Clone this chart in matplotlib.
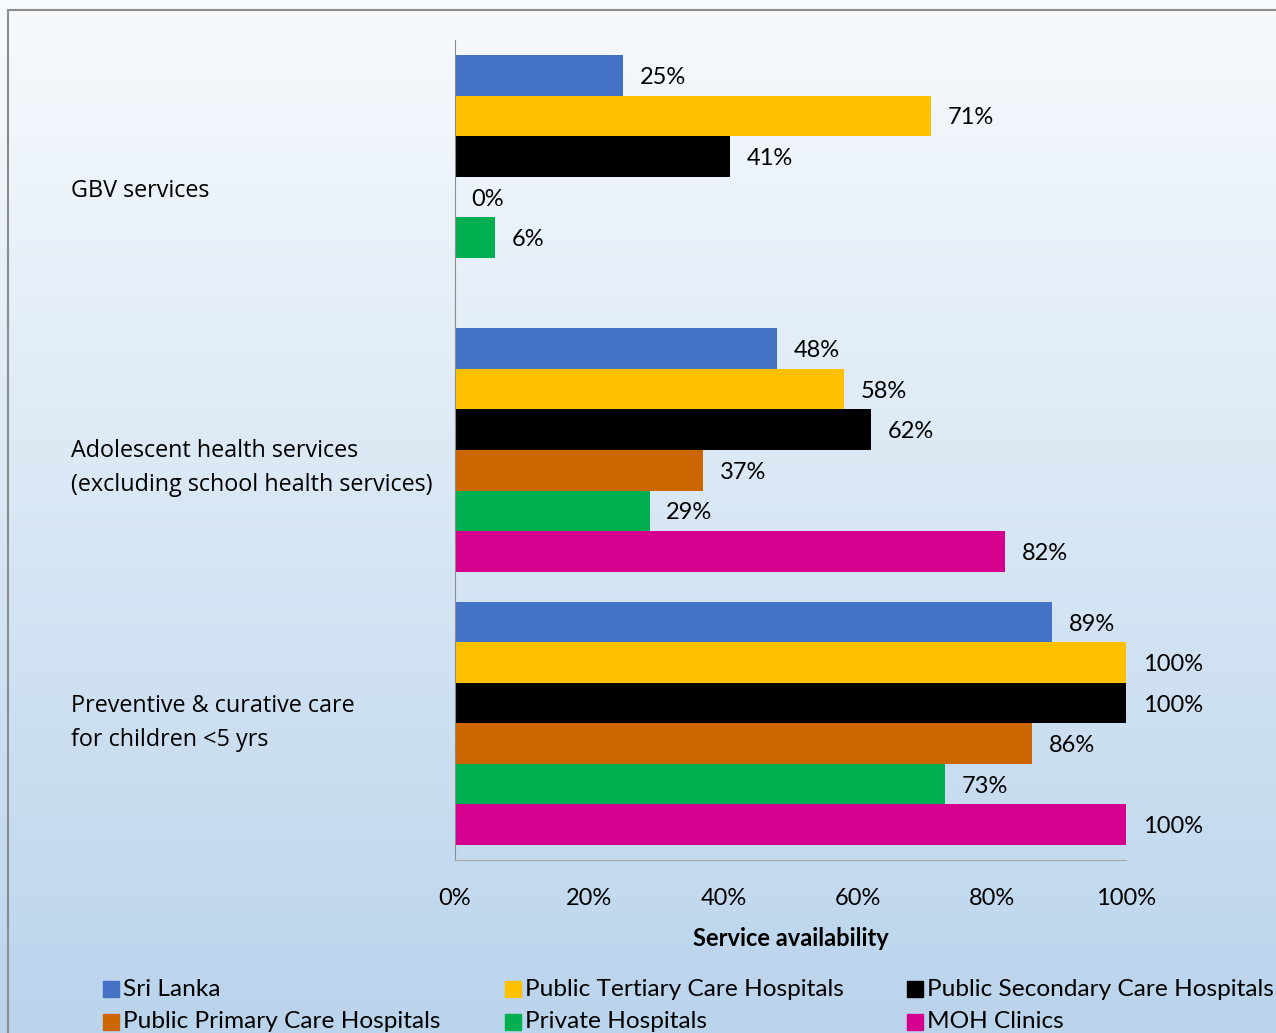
import matplotlib
matplotlib.use("Agg")
import matplotlib.pyplot as plt
import matplotlib.transforms as mtransforms
from matplotlib.patches import Rectangle
import numpy as np

categories = [
    "Preventive & curative care\nfor children <5 yrs",
    "Adolescent health services\n(excluding school health services)",
    "GBV services",
]
series = [
    "Sri Lanka",
    "Public Tertiary Care Hospitals",
    "Public Secondary Care Hospitals",
    "Public Primary Care Hospitals",
    "Private Hospitals",
    "MOH Clinics",
]
colors = ["#4472C4", "#FFC000", "#000000", "#CC6600", "#00B050", "#D6008F"]

# values per series, in category order (preventive, adolescent, GBV)
sri_lanka = [0.89, 0.48, 0.25]
tertiary = [1.00, 0.58, 0.71]
secondary = [1.00, 0.62, 0.41]
primary = [0.86, 0.37, 0.00]
private = [0.73, 0.29, 0.06]
moh = [1.00, 0.82, np.nan]
values = [sri_lanka, tertiary, secondary, primary, private, moh]

ticks = [0, 0.2, 0.4, 0.6, 0.8, 1.0]

plt.rcParams["font.family"] = ["Lato", "DejaVu Sans"]
FS = 17

fig = plt.figure(figsize=(12.76, 10.33), dpi=100)

# background gradient + frame
bg = fig.add_axes([0, 0, 1, 1], zorder=-10)
top = np.array([247, 250, 253]) / 255
bot = np.array([186, 212, 236]) / 255
t = np.linspace(0, 1, 256)[:, None]
grad = top[None, :] * (1 - t) + bot[None, :] * t
bg.imshow(grad[:, None, :], aspect="auto", extent=[0, 1, 0, 1])
bg.add_patch(Rectangle((8 / 1276, -0.05), 1.1, 1.05 - 10 / 1033,
                       fill=False, edgecolor="#8C8C8C", linewidth=1.5))
bg.set_xlim(0, 1)
bg.set_ylim(0, 1)
bg.axis("off")

ax = fig.add_axes([455 / 1276, (1033 - 860) / 1033, (1126 - 455) / 1276, 820 / 1033])
ax.patch.set_alpha(0)

h = 0.1484
y = np.arange(len(categories))
for i, (name, vals, c) in enumerate(zip(series, values, colors)):
    pos = y + (2.5 - i) * h
    ax.barh(pos, vals, height=h, color=c, label=name)
    for p, v in zip(pos, vals):
        if np.isnan(v):
            continue
        ax.annotate(f"{v:.0%}", (v, p), xytext=(12, -1.5), textcoords="offset points",
                    va="center", ha="left", fontsize=FS)

ax.set_xlim(0, 1)
ax.set_ylim(-0.5, 2.5)
ax.set_xticks(ticks)
ax.set_xticklabels([f"{v:.0%}" for v in ticks], fontsize=FS)
ax.tick_params(axis="x", length=0, pad=20)
ax.set_yticks([])
ax.set_xlabel("Service availability", fontsize=FS, fontweight="bold", labelpad=13)

for s in ["top", "right"]:
    ax.spines[s].set_visible(False)
ax.spines["left"].set_color("#8C8C8C")
ax.spines["bottom"].set_color("#A8A8A8")

# category labels, left aligned in the margin
label_nudge = [0.0, -0.066, -0.051]
trans = mtransforms.blended_transform_factory(fig.transFigure, ax.transData)
for yi, cat, dy in zip(y, categories, label_nudge):
    ax.text(71 / 1276, yi + dy, cat, transform=trans,
            ha="left", va="center", fontsize=16.8, family=["Open Sans", "DejaVu Sans"],
            linespacing=1.55)

# legend, two rows of three
col_x = [103, 505, 907]
row_y = [989, 1022]
for i, (name, c) in enumerate(zip(series, colors)):
    xs = col_x[i % 3] / 1276
    ys = 1 - row_y[i // 3] / 1033
    fig.patches.append(Rectangle((xs, ys - 8 / 1033), 16 / 1276, 16 / 1033,
                                 transform=fig.transFigure, color=c))
    fig.text(xs + 20 / 1276, ys, name, ha="left", va="center", fontsize=17.6)

fig.savefig("out.png", dpi=100)
